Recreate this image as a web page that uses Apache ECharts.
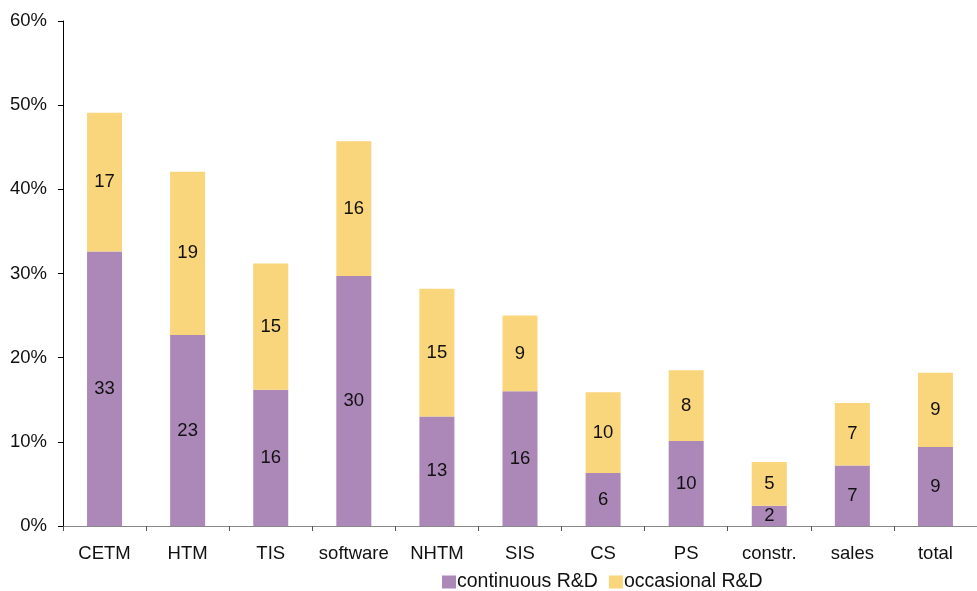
<!DOCTYPE html>
<html>
<head>
<meta charset="utf-8">
<script src="https://cdn.jsdelivr.net/npm/echarts@6/dist/echarts.min.js"></script>
<style>
  html, body { margin: 0; padding: 0; background: #fff; }
  #chart { width: 977px; height: 591px; }
</style>
</head>
<body>
<div id="chart"></div>
<script>
// Share of firms doing R&D, by sector (percent)
const categories = ['CETM', 'HTM', 'TIS', 'software', 'NHTM', 'SIS', 'CS', 'PS', 'constr.', 'sales', 'total'];
const continuousRD = [32.6, 22.7, 16.2, 29.7, 13.0, 16.0, 6.3, 10.1, 2.4, 7.2, 9.4];
const occasionalRD = [16.5, 19.4, 15.0, 16.0, 15.2, 9.0, 9.6, 8.4, 5.2, 7.4, 8.8];
const yTicks = { min: 0, max: 60, interval: 10 };

const FONT = '"Liberation Sans", Arial, sans-serif';
const PURPLE = '#ac88b8';
const YELLOW = '#f9d57b';

const chart = echarts.init(document.getElementById('chart'), null, { renderer: 'canvas' });

const valueLabel = {
  show: true,
  position: 'inside',
  color: '#111',
  fontFamily: FONT,
  fontSize: 18.5,
  formatter: p => String(Math.round(p.value))
};

chart.setOption({
  animation: false,
  backgroundColor: '#fff',
  grid: { left: 63, right: 0, top: 21, bottom: 65 },
  legend: {
    top: 567,
    left: 437,
    icon: 'rect',
    itemWidth: 14,
    itemHeight: 13,
    itemGap: 11,
    textStyle: { fontFamily: FONT, fontSize: 19.5, color: '#111', padding: [0, 0, 0, -4] },
    data: ['continuous R&D', 'occasional R&D']
  },
  xAxis: {
    type: 'category',
    data: categories,
    axisLine: { lineStyle: { color: '#888', width: 1 } },
    axisTick: { show: true, length: 5, alignWithLabel: false, lineStyle: { color: '#555' } },
    axisLabel: { margin: 18, fontFamily: FONT, fontSize: 18.5, color: '#111', interval: 0 }
  },
  yAxis: {
    type: 'value',
    min: yTicks.min,
    max: yTicks.max,
    interval: yTicks.interval,
    splitLine: { show: false },
    axisLine: { show: true, lineStyle: { color: '#000', width: 1 } },
    axisTick: { show: true, length: 5, lineStyle: { color: '#000' } },
    axisLabel: { margin: 16, fontFamily: FONT, fontSize: 18.5, color: '#111', formatter: '{value}%' }
  },
  series: [
    {
      name: 'continuous R&D',
      type: 'bar',
      stack: 'rd',
      barWidth: 35,
      data: continuousRD,
      itemStyle: { color: PURPLE },
      label: valueLabel
    },
    {
      name: 'occasional R&D',
      type: 'bar',
      stack: 'rd',
      barWidth: 35,
      data: occasionalRD,
      itemStyle: { color: YELLOW },
      label: valueLabel
    }
  ]
});
</script>
</body>
</html>
